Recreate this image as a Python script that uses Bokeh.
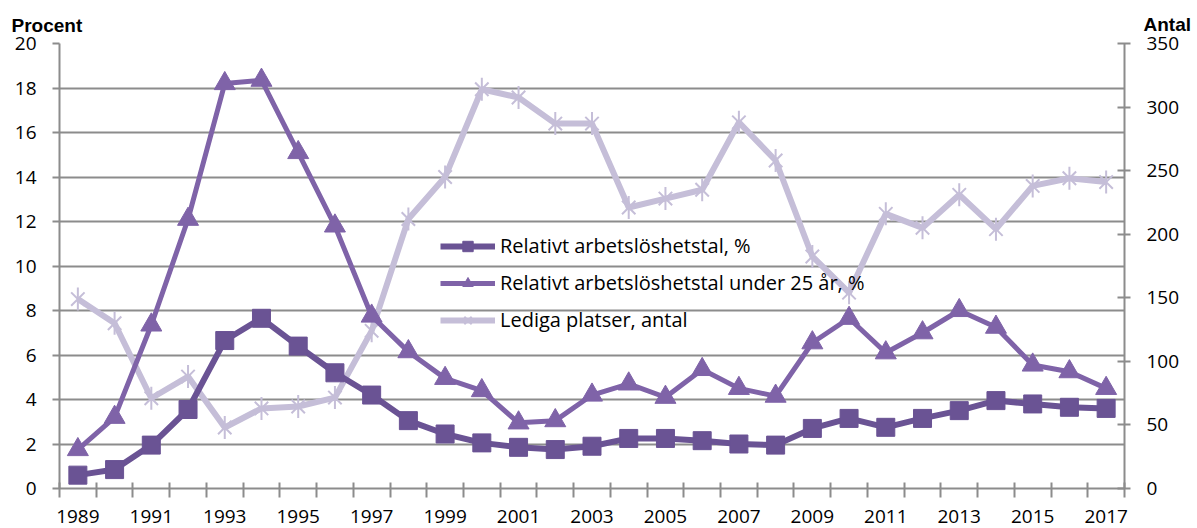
from bokeh.plotting import figure
from bokeh.models import (Range1d, LinearAxis, FixedTicker, Legend, LegendItem,
                          ColumnDataSource, Label)
from bokeh.embed import file_html
from bokeh.resources import INLINE

years = list(range(1989, 2018))
year_labels = [str(y) for y in range(1989, 2018, 2)]

relativt = [0.6, 0.85, 1.95, 3.55, 6.65, 7.65, 6.4, 5.2, 4.2, 3.05, 2.45, 2.05, 1.85, 1.75,
            1.9, 2.25, 2.25, 2.15, 2.0, 1.95, 2.7, 3.15, 2.75, 3.15, 3.5, 3.95, 3.8, 3.65, 3.6]
under25 = [1.75, 3.2, 7.35, 12.1, 18.2, 18.35, 15.1, 11.8, 7.75, 6.15, 4.95, 4.4, 2.95, 3.05,
           4.2, 4.7, 4.1, 5.35, 4.5, 4.15, 6.55, 7.65, 6.1, 7.0, 8.0, 7.25, 5.55, 5.25, 4.5]
lediga = [149, 130, 71, 88, 48, 63, 64.5, 71.5, 124, 212, 245, 314, 307.5, 287,
          287, 221, 228, 235, 288, 258, 182.5, 154, 216, 205, 231, 204, 238, 244, 241]

left_ticks = list(range(0, 21, 2))
right_ticks = list(range(0, 351, 50))

C1 = "#6a5394"
C2 = "#7f63a8"
C3 = "#c5bed8"
GRID = "#8c8c8c"
FONT = "Open Sans"
TFONT = "Liberation Sans"
W, H = 1197, 528

p = figure(width=W, height=H, output_backend="svg", toolbar_location=None,
           x_range=Range1d(1988.5, 2017.5), y_range=Range1d(0, 20),
           min_border_left=59, min_border_right=73, min_border_top=43, min_border_bottom=40,
           x_axis_location=None, y_axis_location=None)
p.outline_line_color = None
p.background_fill_color = "white"
p.border_fill_color = "white"
p.extra_y_ranges = {"antal": Range1d(0, 350)}

# x axis: labels at category centers, boundary ticks as minor ticks
xa = LinearAxis(ticker=FixedTicker(ticks=[y for y in range(1989, 2018, 2)],
                                   minor_ticks=[y + 0.5 for y in range(1988, 2018)]))
xa.major_label_overrides = {y: s for y, s in zip(range(1989, 2018, 2), year_labels)}
xa.major_tick_in = 0
xa.major_tick_out = 0
xa.minor_tick_in = 6
xa.minor_tick_out = 9
xa.minor_tick_line_color = GRID
xa.minor_tick_line_width = 2
xa.axis_line_color = GRID
xa.axis_line_width = 2
xa.major_label_text_font = FONT
xa.major_label_text_font_size = "19px"
xa.major_label_text_color = "black"
xa.major_label_standoff = 12
p.add_layout(xa, "below")

ya = LinearAxis(ticker=FixedTicker(ticks=left_ticks, minor_ticks=[]))
ya.major_tick_in = 0
ya.major_tick_out = 7
ya.major_tick_line_color = GRID
ya.major_tick_line_width = 2
ya.axis_line_color = GRID
ya.axis_line_width = 2
ya.major_label_text_font = FONT
ya.major_label_text_font_size = "19px"
ya.major_label_text_color = "black"
ya.major_label_standoff = 16
p.add_layout(ya, "left")

yr = LinearAxis(y_range_name="antal", ticker=FixedTicker(ticks=right_ticks, minor_ticks=[]))
yr.major_tick_in = 7
yr.major_tick_out = 6
yr.major_tick_line_color = GRID
yr.major_tick_line_width = 2
yr.axis_line_color = GRID
yr.axis_line_width = 2
yr.major_label_text_font = FONT
yr.major_label_text_font_size = "19px"
yr.major_label_text_color = "black"
yr.major_label_standoff = 16
p.add_layout(yr, "right")

p.ygrid.ticker = FixedTicker(ticks=left_ticks)
p.ygrid.grid_line_color = GRID
p.ygrid.grid_line_width = 2
p.xgrid.grid_line_color = None

src = ColumnDataSource(dict(x=years, r=relativt, u=under25, l=lediga))

l3 = p.line("x", "l", source=src, y_range_name="antal", line_color=C3, line_width=6)
m3a = p.scatter("x", "l", source=src, y_range_name="antal", marker="x", size=19,
                line_color=C3, line_width=2)
m3b = p.scatter("x", "l", source=src, y_range_name="antal", marker="dash", angle=1.5708,
                size=23, line_color=C3, line_width=2)

l2 = p.line("x", "u", source=src, line_color=C2, line_width=5)
m2 = p.scatter("x", "u", source=src, marker="triangle", size=21, fill_color=C2,
               line_color=C2)

l1 = p.line("x", "r", source=src, line_color=C1, line_width=6)
m1 = p.scatter("x", "r", source=src, marker="square", size=18, fill_color=C1, line_color=C1)

legend = Legend(items=[
    LegendItem(label="Relativt arbetslöshetstal, %", renderers=[l1, m1]),
    LegendItem(label="Relativt arbetslöshetstal under 25 år, %", renderers=[l2, m2]),
    LegendItem(label="Lediga platser, antal", renderers=[l3, m3a, m3b]),
], location=(381, 155))
legend.background_fill_alpha = 0
legend.border_line_color = None
legend.padding = 0
legend.margin = 0
legend.spacing = 10
legend.glyph_width = 55
legend.glyph_height = 26
legend.label_height = 20
legend.label_standoff = 5
legend.label_text_font = FONT
legend.label_text_font_size = "20px"
legend.label_text_color = "black"
p.add_layout(legend, "center")

# axis titles placed in the top side panel (not clipped to the frame);
# they stack outward from the frame, each about 21px tall
p.add_layout(Label(x=-48, y=18, x_units="screen", y_units="screen", text="Procent",
                   text_font=TFONT, text_font_size="19px", text_font_style="bold",
                   text_baseline="alphabetic", text_color="black"), "above")
p.add_layout(Label(x=1084, y=-2, x_units="screen", y_units="screen", text="Antal",
                   text_font=TFONT, text_font_size="19px", text_font_style="bold",
                   text_baseline="alphabetic", text_color="black"), "above")

open("out.html", "w").write(file_html(p, INLINE))
